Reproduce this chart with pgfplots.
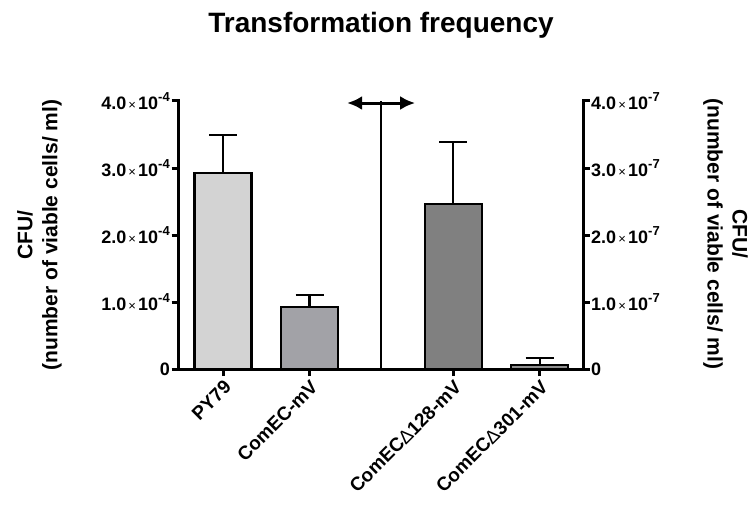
\documentclass[border=0pt]{standalone}
\usepackage{fontspec}
\setmainfont{Liberation Sans}
\usepackage{pgfplots}
\pgfplotsset{compat=1.18}
\usetikzlibrary{arrows.meta}
\definecolor{barA}{HTML}{D3D3D3}
\definecolor{barB}{HTML}{A2A2A7}
\definecolor{barC}{HTML}{808080}
\definecolor{barD}{HTML}{909090}
\newcommand{\sci}[2]{#1{\fontsize{13}{13}\selectfont\mdseries\,×\,}10\raisebox{0.8ex}{\fontsize{13}{13}\selectfont #2}}
\pgfplotsset{
  common/.style={
    width=405pt, height=268.5pt, scale only axis,
    at={(178pt,139.5pt)}, anchor=south west,
    xmin=-0.52, xmax=4.16, clip=false,
    scaled y ticks=false,
    axis line style={line width=3pt, line cap=rect},
    tick style={line width=3pt, black},
    major tick length=6.5pt, tick align=outside,
    yticklabel style={font=\fontsize{18}{18}\selectfont\bfseries, inner sep=1.5pt},
  },
  barstyle/.style={ybar, bar width=57pt, bar shift=0pt, fill=#1, draw=black, line width=2.2pt,
    error bars/.cd, y dir=plus, y explicit,
    error bar style={line width=2.2pt, black},
    error mark options={rotate=90, mark size=14pt, line width=2.2pt, black}},
}
\begin{document}
\begin{tikzpicture}
\useasboundingbox (0pt,0pt) rectangle (753pt,509pt);
\begin{axis}[common,
  axis y line*=left, axis x line*=bottom,
  ymin=0, ymax=4e-4,
  ytick={0,1e-4,2e-4,3e-4,4e-4},
  yticklabels={0,\sci{1.0}{-4},\sci{2.0}{-4},\sci{3.0}{-4},\sci{4.0}{-4}},
  xtick={0,1,2.66,3.66},
  xticklabels={PY79,ComEC-mV,ComEC{\mdseries Δ}128-mV,ComEC{\mdseries Δ}301-mV},
  xticklabel style={rotate=45, anchor=north east, font=\fontsize{19}{19}\selectfont\bfseries, inner sep=2pt},
]
\addplot[barstyle=barA] coordinates {(0,2.93e-4) +- (0,0.56e-4)};
\addplot[barstyle=barB] coordinates {(1,0.927e-4) +- (0,0.183e-4)};
\addplot[black, line width=2.2pt] coordinates {(1.83,0) (1.83,4e-4)};
\addplot[{Latex[length=15pt,width=14pt]}-{Latex[length=15pt,width=14pt]}, black, line width=3pt] coordinates {(1.434,3.97e-4) (2.22,3.97e-4)};
\end{axis}
\begin{axis}[common,
  axis y line*=right, axis x line=none,
  ymin=0, ymax=4e-7,
  ytick={0,1e-7,2e-7,3e-7,4e-7},
  yticklabels={0,\sci{1.0}{-7},\sci{2.0}{-7},\sci{3.0}{-7},\sci{4.0}{-7}},
]
\addplot[barstyle=barC] coordinates {(2.66,2.46e-7) +- (0,0.93e-7)};
\addplot[barstyle=barD] coordinates {(3.66,0.067e-7) +- (0,0.10e-7)};
\end{axis}
\node[font=\fontsize{28}{28}\selectfont\bfseries] at (381pt,484pt) {Transformation frequency};
\node[rotate=90, align=center, font=\fontsize{21}{25}\selectfont\bfseries] at (39.5pt,274pt) {CFU/\\(number of viable cells/ ml)};
\node[rotate=-90, align=center, font=\fontsize{21}{25}\selectfont\bfseries] at (725.5pt,275pt) {CFU/\\(number of viable cells/ ml)};
\end{tikzpicture}
\end{document}
